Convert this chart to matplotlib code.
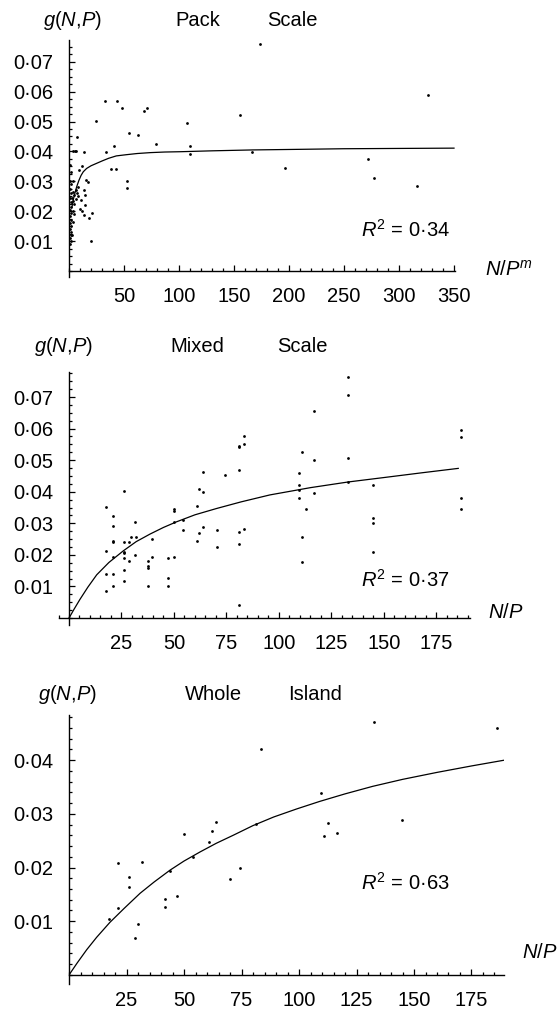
import numpy as np
import matplotlib.pyplot as plt
from matplotlib.ticker import MultipleLocator, FixedLocator, FuncFormatter

plt.rcParams['font.family'] = 'Liberation Sans'
plt.rcParams['mathtext.fontset'] = 'custom'
plt.rcParams['mathtext.rm'] = 'Liberation Sans'
plt.rcParams['mathtext.it'] = 'Liberation Sans:italic'

# --- data ---
# Pack scale
pack_x = [173.6, 32.7, 43.9, 48.2, 24.8, 68.2, 70.9, 54.2, 63.0, 79.1, 107.6, 110.0, 110.0,
          155.5, 166.7, 40.6, 33.3, 38.5, 43.0, 52.4, 52.4, 7.6, 5.2, 6.7, 13.9, 9.1, 11.8,
          15.5, 17.0, 13.6, 14.2, 10.6, 14.8, 10.3, 11.8, 13.3, 18.5, 20.9, 19.7,
          326.7, 196.4, 271.5, 277.6, 316.0,
          1.2, 1.5, 1.0, 1.8, 1.3, 1.6, 1.1, 1.9, 1.4, 1.2, 1.7, 1.0, 1.5, 1.3, 1.8, 1.1,
          1.6, 1.4, 1.2, 1.7, 1.0,
          3.2, 4.0, 3.5, 4.5, 3.0, 3.8, 4.2, 3.3, 4.8, 3.6, 3.1,
          6.2, 7.0, 8.0, 6.5, 8.5]
pack_y = [0.0758, 0.0569, 0.0569, 0.0544, 0.0501, 0.0536, 0.0544, 0.0460, 0.0455, 0.0425,
          0.0496, 0.0418, 0.0391, 0.0522, 0.0399, 0.0417, 0.0397, 0.0340, 0.0340, 0.0302,
          0.0277, 0.0449, 0.0401, 0.0401, 0.0397, 0.0338, 0.0351, 0.0304, 0.0298, 0.0271,
          0.0254, 0.0237, 0.0221, 0.0209, 0.0202, 0.0188, 0.0176, 0.0193, 0.0100,
          0.0589, 0.0343, 0.0373, 0.0312, 0.0284,
          0.0355, 0.0330, 0.0300, 0.0290, 0.0275, 0.0260, 0.0245, 0.0230, 0.0215, 0.0205,
          0.0195, 0.0185, 0.0170, 0.0160, 0.0150, 0.0140, 0.0130, 0.0120, 0.0110, 0.0100,
          0.0090,
          0.0400, 0.0300, 0.0265, 0.0255, 0.0245, 0.0235, 0.0225, 0.0200, 0.0190, 0.0165,
          0.0120,
          0.0270, 0.0260, 0.0250, 0.0240, 0.0280]
pack_fit_x = [2.7, 4, 5.5, 7, 9, 11, 13, 16, 20, 25, 30, 36, 43, 52, 62, 74, 87, 101,
              130, 167, 210, 250, 300, 350]
pack_fit_y = [0.0214, 0.0240, 0.0262, 0.0282, 0.0303, 0.0320, 0.0332, 0.0343, 0.0352,
              0.0360, 0.0368, 0.0377, 0.0385, 0.0389, 0.0393, 0.0396, 0.0398, 0.0399,
              0.0402, 0.0405, 0.0407, 0.0409, 0.0410, 0.0411]

# Mixed scale
mixed_x = [17.6, 17.6, 17.6, 17.6, 21.1, 21.1, 21.1, 21.1, 21.1, 21.1, 21.1,
           26.2, 26.2, 26.2, 26.2, 26.2, 26.2, 26.2, 28.6, 28.6, 29.5, 31.4, 31.7, 31.4,
           37.5, 37.5, 37.5, 37.5, 39.4, 39.4, 47.0, 47.0, 47.0,
           50.2, 50.2, 50.2, 50.2, 54.1, 54.1, 60.8, 60.8, 62.0, 62.0, 63.7, 63.7, 63.7,
           70.3, 70.3, 74.4, 81.1, 81.1, 83.5, 83.5, 81.1, 81.1, 83.5, 81.1, 81.1,
           133.0, 133.0, 116.8, 111.1, 116.8, 133.0, 109.7, 109.7, 109.7, 109.7, 116.8,
           112.9, 111.1, 111.1, 133.0, 144.9, 144.9, 144.9, 144.9,
           186.7, 186.7, 186.7, 186.7]
mixed_y = [0.0353, 0.0213, 0.0141, 0.0085, 0.0323, 0.0292, 0.0244, 0.0240, 0.0194, 0.0141, 0.0101,
           0.0402, 0.0240, 0.0210, 0.0205, 0.0191, 0.0152, 0.0118, 0.0240, 0.0180, 0.0258,
           0.0303, 0.0258, 0.0200,
           0.0182, 0.0165, 0.0159, 0.0101, 0.0250, 0.0194, 0.0189, 0.0126, 0.0101,
           0.0345, 0.0340, 0.0305, 0.0194, 0.0310, 0.0279, 0.0355, 0.0245, 0.0408, 0.0270,
           0.0400, 0.0463, 0.0287,
           0.0279, 0.0224, 0.0453, 0.0546, 0.0541, 0.0577, 0.0550, 0.0469, 0.0273, 0.0281,
           0.0233, 0.0041,
           0.0764, 0.0706, 0.0656, 0.0527, 0.0500, 0.0506, 0.0458, 0.0421, 0.0405, 0.0379,
           0.0395, 0.0344, 0.0258, 0.0178, 0.0430, 0.0421, 0.0316, 0.0300, 0.0210,
           0.0596, 0.0574, 0.0379, 0.0344]
mixed_fit_x = [0, 2.5, 5.2, 9, 13.2, 19, 25.9, 32, 38.6, 45, 51.3, 60, 70.3, 82, 95.7,
               115, 133, 150, 168, 185.4]
mixed_fit_y = [0, 0.0029, 0.0059, 0.0098, 0.0137, 0.0176, 0.0213, 0.0242, 0.0266, 0.0287,
               0.0305, 0.0327, 0.0347, 0.0368, 0.0390, 0.0413, 0.0431, 0.0445, 0.0460, 0.0474]

# Whole island
whole_x = [17.5, 21.3, 21.3, 26.2, 26.2, 29.9, 28.7, 31.6, 41.9, 41.9, 43.9, 46.8, 50.1,
           54.0, 60.9, 62.0, 63.8, 70.0, 74.2, 81.3, 83.3,
           132.6, 186.2, 109.4, 112.8, 110.9, 116.5, 144.6]
whole_y = [0.0105, 0.0208, 0.0125, 0.0183, 0.0164, 0.0094, 0.0068, 0.0210, 0.0141, 0.0126,
           0.0194, 0.0147, 0.0262, 0.0219, 0.0248, 0.0268, 0.0285, 0.0178, 0.0200, 0.0281,
           0.0420, 0.0471, 0.0459, 0.0338, 0.0283, 0.0259, 0.0265, 0.0288]
whole_fit_x = [0, 3.5, 7.7, 12, 17.8, 24, 30.9, 37, 43.9, 50, 57, 64, 71.4, 80, 89, 99,
               109, 120, 132, 145, 160, 175, 189.6]
whole_fit_y = [0, 0.0022, 0.0047, 0.0070, 0.0098, 0.0124, 0.0152, 0.0173, 0.0195, 0.0212,
               0.0229, 0.0245, 0.0260, 0.0278, 0.0294, 0.0309, 0.0323, 0.0337, 0.0351,
               0.0364, 0.0377, 0.0389, 0.0400]

W, H = 558, 1013
fig = plt.figure(figsize=(W / 100, H / 100), dpi=100)


def box(x0, x1, y0, y1):
    return [x0 / W, 1 - y1 / H, (x1 - x0) / W, (y1 - y0) / H]


def dot_fmt(v, pos):
    return ('%.2f' % v).replace('.', '\u00b7')


def setup(ax, xlim, ylim, xmajor, xminor, ymajor, yminor):
    ax.set_xlim(*xlim)
    ax.set_ylim(*ylim)
    for s in ['top', 'right']:
        ax.spines[s].set_visible(False)
    ax.spines['left'].set_position(('data', 0))
    ax.spines['bottom'].set_position(('data', 0))
    for s in ['left', 'bottom']:
        ax.spines[s].set_linewidth(1.0)
    ax.xaxis.set_major_locator(FixedLocator(xmajor))
    ax.xaxis.set_minor_locator(MultipleLocator(xminor))
    ax.yaxis.set_major_locator(FixedLocator(ymajor))
    ax.yaxis.set_minor_locator(MultipleLocator(yminor))
    ax.yaxis.set_major_formatter(FuncFormatter(dot_fmt))
    ax.tick_params(axis='both', which='major', direction='in', length=4.5, width=0.9,
                   labelsize=14.5)
    ax.tick_params(axis='both', which='minor', direction='in', length=2.5, width=0.9)
    ax.tick_params(axis='x', which='major', pad=11.5)
    ax.tick_params(axis='y', which='major', pad=11)
    ax.patch.set_visible(False)


def ftext(x, y, s, ha='center'):
    fig.text(x / W, 1 - y / H, s, ha=ha, va='center', fontsize=14.5)


# panel 1
ax1 = fig.add_axes(box(69, 455.1, 40.2, 277))
setup(ax1, (0, 351), (-0.002, 0.0772), [50, 100, 150, 200, 250, 300, 350], 10,
      [0.01, 0.02, 0.03, 0.04, 0.05, 0.06, 0.07], 0.0025)
ax1.plot(pack_fit_x, pack_fit_y, color='black', lw=0.9)
ax1.plot(pack_x, pack_y, 'o', color='black', ms=2.0, mec='none')
ftext(72, 20, '$g$($N$,$P$)')
ftext(198, 20, 'Pack')
ftext(292, 20, 'Scale')
ftext(485, 270, '$N/P^m$', ha='left')
ftext(405, 230, '$R^2$ = 0\u00b734')

# panel 2
ax2 = fig.add_axes(box(58.5, 470, 372.4, 625))
setup(ax2, (-5, 191), (-0.0022, 0.0778), [25, 50, 75, 100, 125, 150, 175], 5,
      [0.01, 0.02, 0.03, 0.04, 0.05, 0.06, 0.07], 0.0025)
ax2.plot(mixed_fit_x, mixed_fit_y, color='black', lw=0.9)
ax2.plot(mixed_x, mixed_y, 'o', color='black', ms=2.0, mec='none')
ftext(63, 347, '$g$($N$,$P$)')
ftext(197, 347, 'Mixed')
ftext(302, 347, 'Scale')
ftext(488, 612, '$N/P$', ha='left')
ftext(405, 580, '$R^2$ = 0\u00b737')

# panel 3
ax3 = fig.add_axes(box(69, 503.7, 714.9, 984.1))
setup(ax3, (0, 189), (-0.0017, 0.0484), [25, 50, 75, 100, 125, 150, 175], 5,
      [0.01, 0.02, 0.03, 0.04], 0.002)
ax3.plot(whole_fit_x, whole_fit_y, color='black', lw=0.9)
ax3.plot(whole_x, whole_y, 'o', color='black', ms=2.0, mec='none')
ftext(67, 695, '$g$($N$,$P$)')
ftext(213, 695, 'Whole')
ftext(315, 695, 'Island')
ftext(522, 952, '$N/P$', ha='left')
ftext(405, 883, '$R^2$ = 0\u00b763')

fig.savefig('out.png', dpi=100)
